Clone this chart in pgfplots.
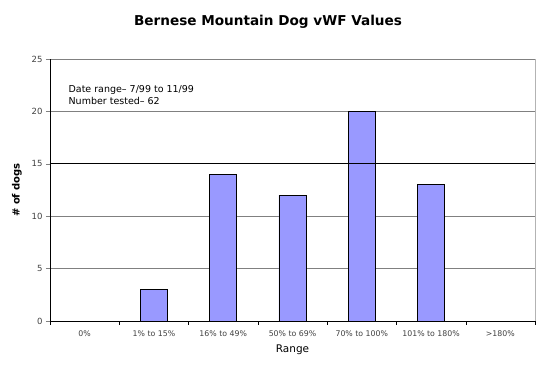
\documentclass[border=0pt]{standalone}
\usepackage{pgfplots}
\pgfplotsset{compat=1.18}
\usepackage{fontspec}
\setmainfont{DejaVu Sans}
\definecolor{barblue}{RGB}{153,153,255}
\definecolor{gridgray}{RGB}{128,128,128}
\begin{document}
\begin{tikzpicture}
\begin{axis}[
  scale only axis, width=485pt, height=262pt,
  xmin=-0.5, xmax=6.5, ymin=0, ymax=25,
  ytick={0,5,10,15,20,25},
  xtick={0,...,6},
  xticklabels={0\%,1\% to 15\%,16\% to 49\%,50\% to 69\%,70\% to 100\%,101\% to 180\%,>180\%},
  minor xtick={-0.5,0.5,1.5,2.5,3.5,4.5,5.5,6.5},
  major x tick style={draw=none},
  minor x tick style={black},
  tick align=outside,
  major tick length=4pt, minor tick length=4pt,
  xtick pos=bottom, ytick pos=left,
  ymajorgrids, grid style={gridgray, line width=0.8pt},
  axis line style={gridgray},
  axis x line*=bottom, axis y line*=left,
  ticklabel style={font=\fontsize{7.8}{9}\selectfont, text=black!75},
  yticklabel style={font=\fontsize{8.5}{10}\selectfont},
  xticklabel style={yshift=-2pt},
  /pgf/number format/assume math mode=true,
  xlabel={Range}, ylabel={\bfseries \# of dogs},
  xlabel style={font=\fontsize{10.5}{12}\selectfont, at={(axis description cs:0.5,-0.11)}, anchor=center},
  ylabel style={font=\fontsize{10}{12}\selectfont, at={(axis description cs:-0.068,0.5)}, anchor=center},
  clip=false,
]
\addplot[ybar, bar width=0.39, fill=barblue, draw=black, line width=0.6pt]
  coordinates {(1,3) (2,14) (3,12) (4,20) (5,13)};
\draw[black, line width=0.8pt] (axis cs:-0.5,15) -- (axis cs:6.5,15);
\draw[gridgray, line width=0.8pt] (axis cs:-0.5,25) -- (axis cs:6.5,25);
\draw[gridgray!60, line width=0.8pt] (axis cs:6.5,0) -- (axis cs:6.5,25);
\draw[black, line width=0.8pt] (axis cs:-0.5,0) -- (axis cs:-0.5,25);
\draw[black, line width=0.8pt] (axis cs:-0.5,0) -- (axis cs:6.5,0);
\node[anchor=north west, align=left, font=\fontsize{9.5}{12}\selectfont, inner sep=0pt] at (rel axis cs:0.038,0.9) {Date range-- 7/99 to 11/99\\Number tested-- 62};
\node[font=\bfseries\fontsize{13.6}{15}\selectfont] at (axis description cs:0.44948,1.141221) {Bernese Mountain Dog vWF Values};
\path (axis description cs:-0.103093,-0.183206) rectangle (axis description cs:1.010309,1.225191);
\end{axis}
\end{tikzpicture}
\end{document}
